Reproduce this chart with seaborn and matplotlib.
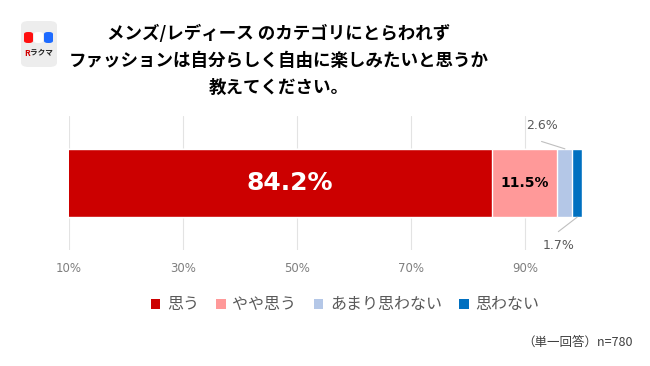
import numpy as np
import pandas as pd
import matplotlib
matplotlib.use("Agg")
import matplotlib.pyplot as plt
from matplotlib.patches import Patch, FancyBboxPatch
import seaborn as sns

# data
answers = ["思う", "やや思う", "あまり思わない", "思わない"]
shares = [84.2, 11.5, 2.6, 1.7]
colors = ["#CC0000", "#FF9999", "#B4C7E7", "#0070C0"]
tick_values = [10, 30, 50, 70, 90]
tick_labels = ["10%", "30%", "50%", "70%", "90%"]

title = "メンズ/レディース のカテゴリにとらわれず\nファッションは自分らしく自由に楽しみたいと思うか\n教えてください。"
note = "（単一回答）n=780"

sns.set_theme(style="white")
plt.rcParams["font.family"] = ["Noto Sans CJK JP", "DejaVu Sans"]

df = pd.DataFrame({"answer": answers, "share": shares})
df["cum"] = df["share"].cumsum()
df["start"] = df["cum"] - df["share"]
df["row"] = ""

fig = plt.figure(figsize=(6.5, 3.66), dpi=100)
ax = fig.add_axes([69 / 650, 1 - 250 / 366, 513 / 650, 134 / 366])

# stacked bar: draw cumulative totals, longest first
for i in reversed(range(len(df))):
    sns.barplot(x=[df["cum"][i]], y=[df["row"][i]], color=colors[i],
                saturation=1, width=0.51, orient="h", ax=ax, zorder=3)

ax.set_xlim(10, 100)
ax.set_ylim(0.5, -0.5)
ax.set_xticks(tick_values)
ax.set_xticklabels(tick_labels, fontsize=8.5, color="#7F7F7F", family="DejaVu Sans")
ax.tick_params(axis="x", length=0, pad=9)
ax.set_yticks([])
ax.set_xlabel("")
ax.set_ylabel("")
ax.grid(axis="x", color="#E3E3E3", linewidth=0.8, zorder=0)
for s in ax.spines.values():
    s.set_visible(False)

# value labels
mid_red = (max(df["start"][0], 10) + df["cum"][0]) / 2 + 1.7
ax.text(mid_red, 0.0, f"{shares[0]}%", color="white", fontsize=18, fontweight="bold",
        ha="center", va="center", family="DejaVu Sans", zorder=5)
ax.text((df["start"][1] + df["cum"][1]) / 2, 0.0, f"{shares[1]}%", color="black",
        fontsize=10, fontweight="bold", ha="center", va="center",
        family="DejaVu Sans", zorder=5)

# small segments with leader lines
x2 = (df["start"][2] + df["cum"][2]) / 2
ax.plot([x2 - 4.1, x2], [-0.31, -0.255], color="#BFBFBF", lw=0.8, clip_on=False, zorder=4)
ax.text(x2 - 4.1, -0.43, f"{shares[2]}%", fontsize=9, color="#595959",
        ha="center", va="center", family="DejaVu Sans")
x3 = (df["start"][3] + df["cum"][3]) / 2
ax.plot([x3, x3 - 3.3], [0.255, 0.363], color="#BFBFBF", lw=0.8, clip_on=False, zorder=4)
ax.text(x3 - 3.2, 0.463, f"{shares[3]}%", fontsize=9, color="#595959",
        ha="center", va="center", family="DejaVu Sans")

# title
fig.text(279 / 650, 1 - 61 / 366, title, ha="center", va="center",
         fontsize=12.6, fontweight="bold", color="black", linespacing=1.62)

# logo
fig.patches.append(FancyBboxPatch((21 / 650, 1 - 67 / 366), 36 / 650, 46 / 366,
                                  boxstyle="round,pad=0,rounding_size=0.012",
                                  transform=fig.transFigure, facecolor="#EDEDED",
                                  edgecolor="none"))
for x0, c in [(24, "#FF1010"), (34, "white"), (44, "#1E6BFF")]:
    fig.patches.append(FancyBboxPatch((x0 / 650, 1 - 43 / 366), 9 / 650, 11 / 366,
                                      boxstyle="round,pad=0,rounding_size=0.006",
                                      transform=fig.transFigure, facecolor=c,
                                      edgecolor="none"))
fig.text(24 / 650, 1 - 53 / 366, "R", color="#D00000", fontsize=6,
         fontweight="bold", ha="left", va="center")
fig.text(30 / 650, 1 - 53 / 366, "ラクマ", color="#222222", fontsize=5.5,
         fontweight="bold", ha="left", va="center")

# legend
handles = [Patch(facecolor=c, edgecolor="none", label=a) for a, c in zip(answers, colors)]
fig.legend(handles=handles, loc="center", bbox_to_anchor=(345 / 650, 1 - 305 / 366),
           ncol=4, frameon=False, fontsize=11.5, handlelength=0.6, handleheight=0.6,
           handletextpad=0.4, columnspacing=1.1, labelcolor="#595959")

fig.text(633 / 650, 1 - 342 / 366, note, ha="right", va="center",
         fontsize=9, color="#404040")

fig.savefig("out.png", dpi=100)
